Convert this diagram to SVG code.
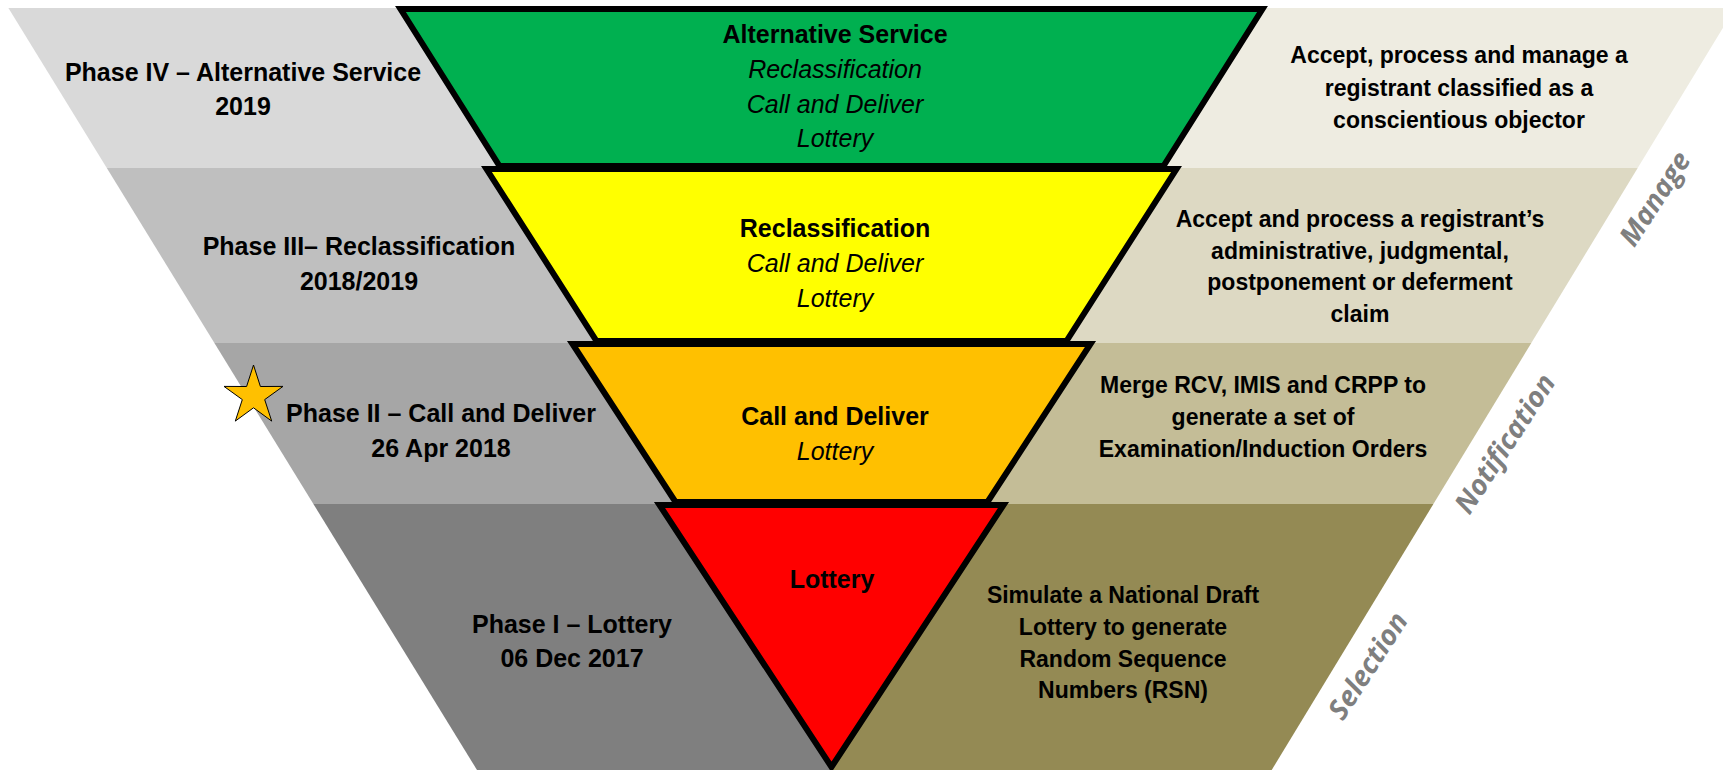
<svg xmlns="http://www.w3.org/2000/svg" width="1723" height="770" viewBox="0 0 1723 770">
<style>
.t{font-family:"Liberation Sans",Arial,sans-serif;font-weight:bold;fill:#000;text-anchor:middle}
.l{font-size:25px}
.r{font-size:23px}
.c{font-size:25px}
.i{font-style:italic;font-weight:normal}
.side{font-family:"Open Sans","Liberation Sans",sans-serif;font-weight:bold;font-style:italic;font-size:28px;fill:#7F7F7F;text-anchor:middle}
.f{stroke:#000;stroke-width:6;stroke-linejoin:miter}
</style>
<rect width="1723" height="770" fill="#fff"/>
<g id="bands">
<polygon points="8.4,8 831.5,8 831.5,168 106.8,168" fill="#D9D9D9"/>
<polygon points="831.5,8 1735,8 1637.7,168 831.5,168" fill="#EEECE1"/>
<polygon points="106.8,168 831.5,168 831.5,343 214.4,343" fill="#BFBFBF"/>
<polygon points="831.5,168 1637.7,168 1531.3,343 831.5,343" fill="#DDD9C3"/>
<polygon points="214.4,343 831.5,343 831.5,504 313.4,504" fill="#A6A6A6"/>
<polygon points="831.5,343 1531.3,343 1433.4,504 831.5,504" fill="#C4BD97"/>
<polygon points="313.4,504 831.5,504 831.5,770 477,770" fill="#7F7F7F"/>
<polygon points="831.5,504 1433.4,504 1271.7,770 831.5,770" fill="#948A54"/>
</g>
<g id="phase4">
<text class="t l" x="243" y="81">Phase IV – Alternative Service</text>
<text class="t l" x="243" y="115">2019</text>
</g>
<g id="phase3">
<text class="t l" x="359" y="255">Phase III– Reclassification</text>
<text class="t l" x="359" y="290">2018/2019</text>
</g>
<g id="phase2">
<polygon points="253.5,365 260.4,386.5 283,386.4 264.7,399.6 271.7,421.1 253.5,407.8 235.3,421.1 242.3,399.6 224,386.4 246.6,386.5" fill="#FFC000" stroke="#000" stroke-width="1"/>
<text class="t l" x="441" y="422">Phase II – Call and Deliver</text>
<text class="t l" x="441" y="457">26 Apr 2018</text>
</g>
<g id="phase1">
<text class="t l" x="572" y="633">Phase I – Lottery</text>
<text class="t l" x="572" y="667">06 Dec 2017</text>
</g>
<g id="alt-service">
<polygon class="f" points="400.5,9 1262.5,9 1163.5,166 499.5,166" fill="#00B050"/>
<text class="t c" x="835" y="43">Alternative Service</text>
<text class="t c i" x="835" y="78">Reclassification</text>
<text class="t c i" x="835" y="113">Call and Deliver</text>
<text class="t c i" x="835" y="147">Lottery</text>
</g>
<g id="reclassification">
<polygon class="f" points="486.5,169 1176.5,169 1066.5,341 596.5,341" fill="#FFFF00"/>
<text class="t c" x="835" y="237">Reclassification</text>
<text class="t c i" x="835" y="272">Call and Deliver</text>
<text class="t c i" x="835" y="307">Lottery</text>
</g>
<g id="call-deliver">
<polygon class="f" points="572.5,344 1090.5,344 987.5,502 675.5,502" fill="#FFC000"/>
<text class="t c" x="835" y="425">Call and Deliver</text>
<text class="t c i" x="835" y="460">Lottery</text>
</g>
<g id="lottery">
<polygon class="f" points="659.5,505 1003.5,505 831.5,767" fill="#FF0000"/>
<text class="t c" x="832" y="588">Lottery</text>
</g>
<g id="desc4">
<text class="t r" x="1459" y="63">Accept, process and manage a</text>
<text class="t r" x="1459" y="96">registrant classified as a</text>
<text class="t r" x="1459" y="128">conscientious objector</text>
</g>
<g id="desc3">
<text class="t r" x="1360" y="227">Accept and process a registrant’s</text>
<text class="t r" x="1360" y="259">administrative, judgmental,</text>
<text class="t r" x="1360" y="290">postponement or deferment</text>
<text class="t r" x="1360" y="322">claim</text>
</g>
<g id="desc2">
<text class="t r" x="1263" y="393">Merge RCV, IMIS and CRPP to</text>
<text class="t r" x="1263" y="425">generate a set of</text>
<text class="t r" x="1263" y="457">Examination/Induction Orders</text>
</g>
<g id="desc1">
<text class="t r" x="1123" y="603">Simulate a National Draft</text>
<text class="t r" x="1123" y="635">Lottery to generate</text>
<text class="t r" x="1123" y="667">Random Sequence</text>
<text class="t r" x="1123" y="698">Numbers (RSN)</text>
</g>
<g id="side-labels">
<text class="side" transform="translate(1663,204) rotate(-57)">Manage</text>
<text class="side" transform="translate(1513,449) rotate(-57)">Notification</text>
<text class="side" transform="translate(1376,671) rotate(-57)">Selection</text>
</g>
<g id="connectors"/>
</svg>
